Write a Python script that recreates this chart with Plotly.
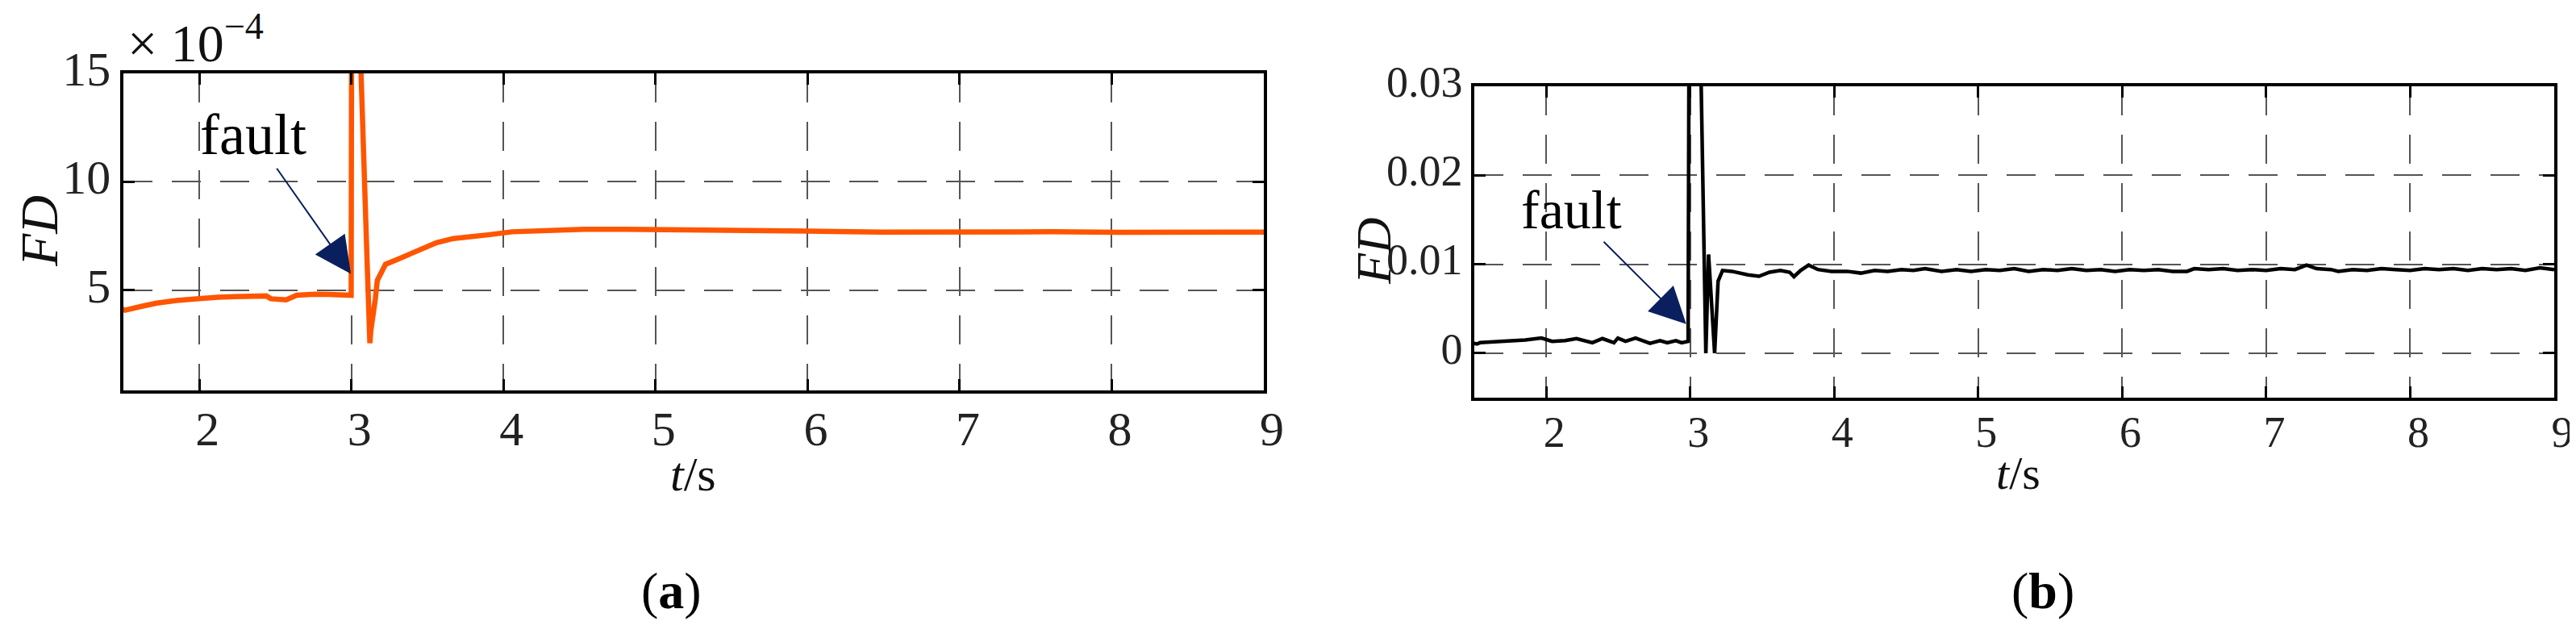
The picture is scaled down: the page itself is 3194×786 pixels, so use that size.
import plotly.graph_objects as go

# ---------------- data ----------------
# panel (a): FD in units of 1e-4
t_a = [1.44, 1.51, 1.62, 1.72, 1.85, 2.0, 2.12, 2.23, 2.35, 2.44, 2.47, 2.52, 2.57,
       2.64, 2.70, 2.76, 2.85, 2.94, 2.998, 3.002, 3.031, 3.10, 3.114, 3.121, 3.127,
       3.145, 3.157, 3.17, 3.20, 3.224, 3.31, 3.436, 3.56, 3.67, 3.77, 3.91, 4.055,
       4.27, 4.53, 4.80, 5.06, 5.33, 5.68, 6.0, 6.49, 7.0, 7.27, 7.6, 8.05, 8.5, 8.88, 9.0]
fd_a = [4.29, 4.07, 4.25, 4.40, 4.52, 4.63, 4.67, 4.70, 4.72, 4.73, 4.60, 4.58, 4.55,
        4.76, 4.80, 4.81, 4.80, 4.74, 4.76, 22.0, 22.0, 6.92, 3.6, 2.55, 3.1,
        3.84, 4.6, 5.45, 5.93, 6.19, 6.44, 6.81, 7.19, 7.38, 7.43, 7.56, 7.69,
        7.75, 7.81, 7.81, 7.78, 7.75, 7.70, 7.72, 7.68, 7.70, 7.71, 7.69, 7.67, 7.69, 7.67, 7.68]

# panel (b): FD
t_b = [1.435, 1.518, 1.54, 1.65, 1.742, 1.854, 1.966, 2.04, 2.13, 2.21, 2.32, 2.39,
       2.47, 2.497, 2.55, 2.62, 2.72, 2.79, 2.84, 2.90, 2.94, 2.985, 2.992, 3.065,
       3.108, 3.127, 3.169, 3.193, 3.224, 3.29, 3.40, 3.477, 3.55, 3.626, 3.69, 3.72,
       3.766, 3.822, 3.887, 3.98, 4.09, 4.185, 4.28, 4.37, 4.466, 4.55, 4.63, 4.745,
       4.85, 4.95, 5.05, 5.15, 5.25, 5.35, 5.45, 5.55, 5.65, 5.75, 5.85, 5.95, 6.05,
       6.15, 6.25, 6.35, 6.45, 6.5, 6.6, 6.7, 6.8, 6.9, 7.0, 7.1, 7.2, 7.28, 7.35,
       7.45, 7.5, 7.6, 7.7, 7.8, 7.9, 8.0, 8.1, 8.2, 8.3, 8.4, 8.5, 8.6, 8.7, 8.8, 8.9, 9.0]
fd_b = [0.00133, 0.00103, 0.00118, 0.00128, 0.00139, 0.00148, 0.00170, 0.00133, 0.00142,
        0.00164, 0.00118, 0.00164, 0.00118, 0.00170, 0.00133, 0.00170, 0.00110, 0.00140,
        0.00118, 0.00140, 0.00118, 0.00133, 0.040, 0.040,
        0.0, 0.0111, 0.0, 0.0081, 0.0093, 0.0092, 0.0088, 0.00864, 0.0091, 0.0093, 0.0091,
        0.0086, 0.0093, 0.0099, 0.0094, 0.0092, 0.0092, 0.0090, 0.0093, 0.0092, 0.0094,
        0.0093, 0.0095, 0.0092,
        0.0094, 0.0092, 0.0094, 0.0093, 0.0095, 0.0092, 0.0094, 0.0093, 0.0095, 0.0093,
        0.0094, 0.0092, 0.0094, 0.0093, 0.0094, 0.0092, 0.0092, 0.0095, 0.0094, 0.0095,
        0.0093, 0.0094, 0.0093, 0.0095, 0.0094, 0.0099, 0.0095, 0.0094, 0.0092, 0.0094,
        0.0093, 0.0095, 0.0094, 0.0093, 0.0095, 0.0094, 0.0095, 0.0093, 0.0095, 0.0094,
        0.0095, 0.0093, 0.0096, 0.0094]

x_ticks = [2, 3, 4, 5, 6, 7, 8, 9]
x_ticktext = ["2", "3", "4", "5", "6", "7", "8", "9"]
y_ticks_a = [5, 10, 15]
y_ticktext_a = ["5", "10", "15"]
y_ticks_b = [0, 0.01, 0.02, 0.03]
y_ticktext_b = ["0", "0.01", "0.02", "0.03"]

W, H = 3194, 786
FONT = "Liberation Serif, Times New Roman, serif"
NAVY = "#0A1F5E"


def px(x):
    return x / W


def py(y):
    return 1 - y / H


fig = go.Figure()
fig.add_trace(go.Scatter(x=t_a, y=fd_a, mode="lines", xaxis="x", yaxis="y",
                         line=dict(color="#FF5500", width=6.5), showlegend=False))
fig.add_trace(go.Scatter(x=t_b, y=fd_b, mode="lines", xaxis="x2", yaxis="y2",
                         line=dict(color="#000000", width=4.5), showlegend=False))

common = dict(showline=True, linecolor="black", linewidth=3.5, mirror="ticks",
              ticks="inside", ticklen=14, tickwidth=3, tickcolor="black",
              showgrid=True, gridcolor="#555555", gridwidth=2, griddash="36px,24px",
              zeroline=False, automargin=False)

fig.update_layout(
    width=W, height=H, autosize=False,
    margin=dict(l=0, r=0, t=0, b=0, pad=0, autoexpand=False),
    paper_bgcolor="white", plot_bgcolor="white",
    showlegend=False,
    xaxis=dict(domain=[px(145), px(1559)], range=[1.5, 9], anchor="y",
               tickvals=x_ticks, ticktext=x_ticktext,
               tickfont=dict(family=FONT, size=60, color="#222"),
               ticklabelshift=10, ticklabelstandoff=-8, **common),
    yaxis=dict(domain=[py(476), py(83)], range=[0.37, 15], anchor="x",
               tickvals=y_ticks_a, ticktext=y_ticktext_a,
               tickfont=dict(family=FONT, size=60, color="#222"),
               ticklabelshift=-6, **common),
    xaxis2=dict(domain=[px(1820), px(3159)], range=[1.5, 9], anchor="y2",
                tickvals=x_ticks, ticktext=x_ticktext,
                tickfont=dict(family=FONT, size=54, color="#222"),
                ticklabelshift=10, ticklabelstandoff=-8, **common),
    yaxis2=dict(domain=[py(485), py(99)], range=[-0.005, 0.03], anchor="x2",
                tickvals=y_ticks_b, ticktext=y_ticktext_b,
                tickfont=dict(family=FONT, size=54, color="#222"),
                ticklabelshift=-6, **common),
)

ann = []
# exponent label
ann.append(dict(text="× 10<sup>−4</sup>", xref="paper", yref="paper",
                x=px(148), y=py(40), xanchor="left", yanchor="middle", showarrow=False,
                font=dict(family=FONT, size=66, color="#111")))
# y titles
ann.append(dict(text="<i>FD</i>", xref="paper", yref="paper", x=px(40), y=py(279),
                xanchor="center", yanchor="middle",
                textangle=-90, showarrow=False, font=dict(family=FONT, size=66, color="#111")))
ann.append(dict(text="<i>FD</i>", xref="paper", yref="paper", x=px(1695), y=py(303),
                xanchor="center", yanchor="middle",
                textangle=-90, showarrow=False, font=dict(family=FONT, size=62, color="#111")))
# x titles
ann.append(dict(text="<i>t</i>/s", xref="paper", yref="paper", x=px(852), y=py(580),
                xanchor="center", yanchor="middle",
                showarrow=False, font=dict(family=FONT, size=60, color="#111")))
ann.append(dict(text="<i>t</i>/s", xref="paper", yref="paper", x=px(2494), y=py(578),
                xanchor="center", yanchor="middle",
                showarrow=False, font=dict(family=FONT, size=58, color="#111")))
# sub-figure labels
ann.append(dict(text="(<b>a</b>)", xref="paper", yref="paper", x=px(825), y=py(724),
                xanchor="center", yanchor="middle",
                showarrow=False, font=dict(family=FONT, size=64, color="black")))
ann.append(dict(text="(<b>b</b>)", xref="paper", yref="paper", x=px(2525), y=py(724),
                xanchor="center", yanchor="middle",
                showarrow=False, font=dict(family=FONT, size=64, color="black")))
# fault labels with arrows (text centred at ax/ay, arrow tip at x/y)
ann.append(dict(text="fault", xref="x", yref="y", x=2.996, y=5.75, axref="x", ayref="y",
                ax=2.354, ay=12.16, xanchor="center", yanchor="middle",
                showarrow=True, arrowhead=2, arrowsize=4.5, arrowwidth=2, arrowcolor=NAVY,
                font=dict(family=FONT, size=72, color="black")))
ann.append(dict(text="fault", xref="x2", yref="y2", x=2.972, y=0.00327, axref="x2", ayref="y2",
                ax=2.177, ay=0.0161, xanchor="center", yanchor="middle",
                showarrow=True, arrowhead=2, arrowsize=4.5, arrowwidth=2, arrowcolor=NAVY,
                font=dict(family=FONT, size=68, color="black")))
fig.update_layout(annotations=ann)

fig.write_html("out.html")
